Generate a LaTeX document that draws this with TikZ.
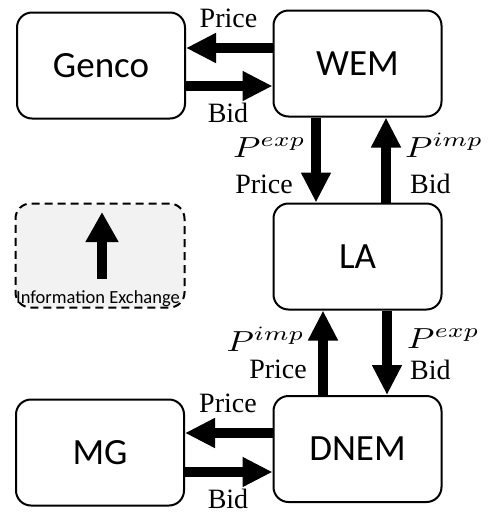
\documentclass[tikz,border=0pt]{standalone}
\usepackage{graphicx}
\usepackage{fontspec}
\usetikzlibrary{arrows.meta}
\newfontfamily\boxfont{Carlito}
\newfontfamily\lblfont{Liberation Serif}
% math symbols drawn at 10pt and enlarged to the label size
\newcommand{\bigmath}[1]{\scalebox{3.5}[2.9]{\fontsize{10}{12}\selectfont$#1$}}
\tikzset{
  agent/.style={draw, line width=2pt, rounded corners=15pt, minimum width=168pt,
    minimum height=106pt, inner sep=0pt, font=\boxfont\fontsize{37}{42}\selectfont},
  legendbox/.style={draw, dashed, dash pattern=on 8pt off 5pt, line width=2pt,
    rounded corners=15pt, fill=black!5, minimum width=169pt, minimum height=104pt, inner sep=0pt},
  bigarrow/.style={line width=10pt, -{Triangle[length=30pt,width=28pt]}},
  lbl/.style={inner sep=0pt, font=\lblfont\fontsize{28}{32}\selectfont},
  smalltxt/.style={inner sep=0pt, font=\boxfont\fontsize{18.5}{20}\selectfont}
}
\begin{document}
\begin{tikzpicture}[x=1pt,y=-1pt]
  \useasboundingbox (0,0) rectangle (494,515);

  % market agents
  \node[agent] (genco) at (101,65.5) {Genco};
  \node[agent] (wem)   at (357.5,63.5) {WEM};
  \node[agent] (la)    at (357.5,256.5) {LA};
  \node[agent] (dnem)  at (357.5,449) {DNEM};
  \node[agent] (mg)    at (100,452.5) {MG};

  % legend
  \node[legendbox] (legend) at (100,255.5) {};
  \coordinate (legtail) at (102,279);
  \coordinate (leghead) at (102,212);
  \draw[line width=10pt, -{Triangle[length=30pt,width=31pt]}] (legtail) -- (leghead);
  \node[smalltxt, anchor=base] (legtext) at (98,303) {Information Exchange};

  % Genco <-> WEM
  \draw[bigarrow] (wem.west |- 0,48) -- (genco.east |- 0,48);
  \draw[bigarrow] (genco.east |- 0,86) -- (wem.west |- 0,86);
  \node[lbl, anchor=base] (p1) at (228.5,27) {Price};
  \node[lbl, anchor=base] (b1) at (228,122) {Bid};

  % WEM <-> LA
  \draw[bigarrow] (wem.south -| 316,0) -- (la.north -| 316,0);
  \draw[bigarrow] (la.north -| 386,0) -- (wem.south -| 386,0);
  \node[lbl, anchor=base east] (pe1) at (306,157) {\bigmath{P^{exp}}};
  \node[lbl, anchor=base east] (p2) at (293,193) {Price};
  \node[lbl, anchor=base west] (pi1) at (405,157) {\bigmath{P^{imp}}};
  \node[lbl, anchor=base west] (b2) at (410,193) {Bid};

  % LA <-> DNEM
  \draw[bigarrow] (dnem.north -| 323,0) -- (la.south -| 323,0);
  \draw[bigarrow] (la.south -| 387,0) -- (dnem.north -| 387,0);
  \node[lbl, anchor=base east] (pi2) at (305,351) {\bigmath{P^{imp}}};
  \node[lbl, anchor=base east] (p3) at (307,378) {Price};
  \node[lbl, anchor=base west] (pe2) at (407,348) {\bigmath{P^{exp}}};
  \node[lbl, anchor=base west] (b3) at (410,379) {Bid};

  % MG <-> DNEM
  \draw[bigarrow] (dnem.west |- 0,433) -- (mg.east |- 0,433);
  \draw[bigarrow] (mg.east |- 0,472) -- (dnem.west |- 0,472);
  \node[lbl, anchor=base] (p4) at (228,412) {Price};
  \node[lbl, anchor=base] (b4) at (228,508) {Bid};
\end{tikzpicture}
\end{document}
